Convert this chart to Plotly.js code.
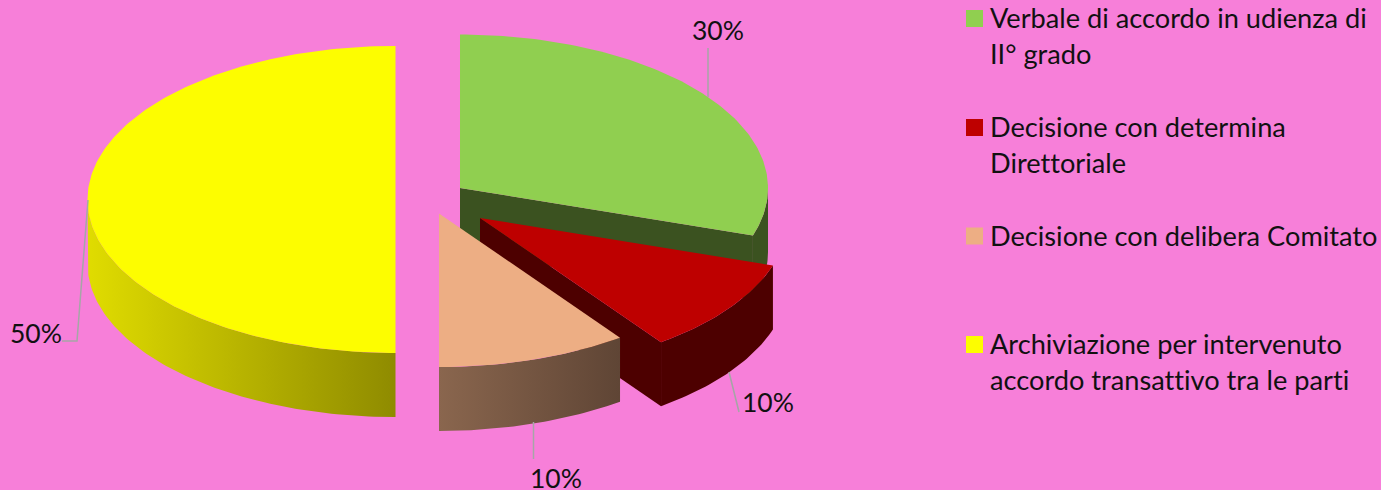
<!DOCTYPE html>
<html>
<head>
<meta charset="utf-8">
<script src="https://cdn.plot.ly/plotly-3.0.1.min.js"></script>
<style>
html,body{margin:0;padding:0;background:#F77FD9;overflow:hidden}
svg text{font-variant-ligatures:none !important;font-feature-settings:"liga" 0,"clig" 0,"dlig" 0 !important}
</style>
</head>
<body>
<div id="chart" style="width:1381px;height:490px"></div>
<script>
// Esiti dei procedimenti, in percentuale
const categories = [
  ["Verbale di accordo in udienza di", "II° grado"],
  ["Decisione con determina", "Direttoriale"],
  ["Decisione con delibera Comitato"],
  ["Archiviazione per intervenuto", "accordo transattivo tra le parti"]
];
const values = [30, 10, 10, 50];
const topColors = ["#90CF50", "#BE0000", "#EDAE84", "#FDFD00"];

// Sketched cylinder projection, in axis units
const RX = 308, RY = 153.5, DEPTH = 64;
const centers = [[460, 188], [480, 218], [439, 213.5], [395.5, 199.5]];
const wallStyles = [
  {color: "#3B5220"},
  {color: "#4D0000"},
  {gradient: ["#8A664E", "#5F4535"]},
  {gradient: ["#E0DC00", "#8F8B00"]}
];

const BG = "#F77FD9";
const total = values.reduce((a, b) => a + b, 0);
const rad = d => d * Math.PI / 180;
const arc = (c, a0, a1, dy) => {
  const n = Math.max(2, Math.ceil(Math.abs(a1 - a0)));
  const xs = [], ys = [];
  for (let i = 0; i <= n; i++) {
    const a = rad(a0 + (a1 - a0) * i / n);
    xs.push(c[0] + RX * Math.sin(a));
    ys.push(c[1] - RY * Math.cos(a) + dy);
  }
  return [xs, ys];
};
const poly = (x, y, color, gradient) => {
  const t = {
    type: "scatter", mode: "lines", x, y, fill: "toself",
    line: {width: 0}, hoverinfo: "skip", showlegend: false
  };
  if (gradient) {
    t.fillgradient = {
      type: "horizontal",
      start: Math.min(...x), stop: Math.max(...x),
      colorscale: [[0, gradient[0]], [1, gradient[1]]]
    };
  } else {
    t.fillcolor = color;
  }
  return t;
};

const traces = [];
let cum = 0;
const slices = values.map((v, i) => {
  const a0 = cum / total * 360;
  cum += v;
  return {i, a0, a1: cum / total * 360};
});
// Back slices first so that the nearer ones cover them
[3, 0, 1, 2].forEach(k => {
  const {i, a0, a1} = slices[k];
  const c = centers[i], w = wallStyles[i];
  // Cut face on the closing edge, visible on the right half only
  if (a1 < 180) {
    const ex = c[0] + RX * Math.sin(rad(a1));
    const ey = c[1] - RY * Math.cos(rad(a1));
    traces.push(poly([c[0], ex, ex, c[0], c[0]],
                     [c[1], ey, ey + DEPTH, c[1] + DEPTH, c[1]], w.color || "#000"));
  }
  // Rim, on the part of the arc that faces the viewer
  const r0 = Math.max(a0, 90), r1 = Math.min(a1, 270);
  if (r1 > r0) {
    const [tx, ty] = arc(c, r0, r1, 0);
    const [bx, by] = arc(c, r1, r0, DEPTH);
    traces.push(poly(tx.concat(bx, tx[0]), ty.concat(by, ty[0]), w.color, w.gradient));
  }
  // Top face
  const [ax, ay] = arc(c, a0, a1, 0);
  traces.push(poly([c[0]].concat(ax, c[0]), [c[1]].concat(ay, c[1]), topColors[i]));
});

// Leader lines
const leaderX = [[708, 708], [729, 739], [533.5, 533.5], [88, 77, 62]];
const leaderY = [[97, 48], [372, 412], [422, 459], [200, 341, 341]];
leaderX.forEach((x, i) => traces.push({
  type: "scatter", mode: "lines", x, y: leaderY[i],
  line: {color: "#A6A6A6", width: 1.5}, hoverinfo: "skip", showlegend: false
}));

// Legend swatches
const swatchX = 974.5;
const legendY = [18.5, 127.5, 236, 344.5];
traces.push({
  type: "scatter", mode: "markers",
  x: legendY.map(() => swatchX), y: legendY,
  marker: {symbol: "square", size: 17, color: topColors, line: {width: 0}},
  hoverinfo: "skip", showlegend: false
});

const FONT = "Lato, Carlito, sans-serif";
const labelPos = [[718, 30], [768, 402], [556, 478], [36, 333]];
const annotations = values.map((v, i) => ({
  x: labelPos[i][0], y: labelPos[i][1], xref: "x", yref: "y",
  text: v + "%", showarrow: false, xanchor: "center", yanchor: "middle",
  height: 22, borderpad: 0,
  font: {family: FONT, size: 26.5, color: "#111"}
}));
categories.forEach((lines, i) => lines.forEach((text, j) => annotations.push({
  x: 987.5, y: legendY[i] - 1 + j * 36, xref: "x", yref: "y",
  text, showarrow: false, xanchor: "left", yanchor: "middle",
  font: {family: FONT, size: 27.2, color: "#111"}
})));

Plotly.newPlot("chart", traces, {
  width: 1381, height: 490,
  margin: {l: 0, r: 0, t: 0, b: 0, pad: 0},
  paper_bgcolor: BG, plot_bgcolor: BG,
  showlegend: false,
  xaxis: {range: [0, 1381], visible: false, fixedrange: true},
  yaxis: {range: [490, 0], visible: false, fixedrange: true},
  annotations
}, {displayModeBar: false, staticPlot: true});
</script>
</body>
</html>
